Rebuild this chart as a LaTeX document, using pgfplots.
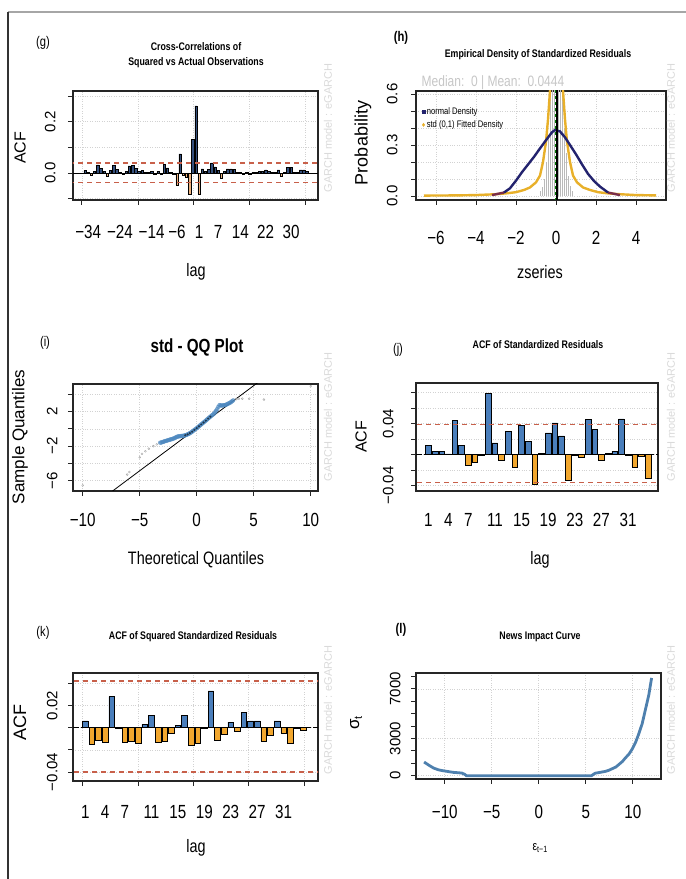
\documentclass[border=0pt]{standalone}
\usepackage{fontspec}
\setmainfont{Liberation Sans}[FakeStretch=0.8]
\newfontfamily\vfont{Liberation Sans}
\usepackage{pgfplots}
\pgfplotsset{compat=1.18}

\definecolor{barblue}{HTML}{4A7EBB}
\definecolor{barorange}{HTML}{F2A72E}
\definecolor{gblue}{HTML}{35507E}
\definecolor{gorange}{HTML}{EDB27E}
\definecolor{ciline}{HTML}{C8604A}
\definecolor{navyd}{HTML}{23236E}
\definecolor{maroon}{HTML}{7A2E4A}
\definecolor{gold}{HTML}{E8B02A}
\definecolor{nicblue}{HTML}{4E80AE}
\definecolor{qqblue}{HTML}{4A86BE}
\definecolor{wm}{HTML}{DADADA}

\newcommand\fs[1]{\fontsize{#1}{#1}\selectfont}

\pgfplotsset{
  rpanel/.style={
    scale only axis,
    axis line style={line width=1.2pt, black!85},
    tick align=outside,
    major tick length=5pt,
    minor tick length=5pt,
    tick style={black!85, line width=0.8pt},
    xtick pos=lower, ytick pos=left,
    grid=major,
    grid style={dotted, gray!35, line width=0.7pt},
    xticklabel style={font=\fs{19}},
    yticklabel style={font=\vfont\fs{15}, rotate=90, anchor=south},
    scaled ticks=false,
  },
  % empty axis that only draws the tick marks and grid of the lag axis
  tickonly/.style={
    scale only axis, ymin=0, ymax=1,
    axis x line*=bottom, hide y axis,
    axis line style={draw=none},
    xticklabels={}, tick align=outside, major tick length=5pt,
    tick style={black!85, line width=0.8pt},
    xmajorgrids, grid style={dotted, gray!35, line width=0.7pt},
  },
  acfci/.style={color=ciline, draw=ciline, line width=1.3pt, dash pattern=on 5pt off 4pt},
}

\begin{document}
\begin{tikzpicture}[x=1pt, y=1pt]
\useasboundingbox (0,0) rectangle (686,879);
\draw[gray!70, line width=2pt] (8,867) -- (686,867);
\draw[black!80, line width=2pt] (8,867) -- (8,0);

% ---------- (g) cross-correlations ----------
\begin{axis}[tickonly, at={(73pt,679pt)}, anchor=south west, width=245pt, height=109pt,
  xmin=-38.8, xmax=38.5, xtick={-36,-18.3,-0.9,16.7,34.4}]
\end{axis}
\begin{axis}[rpanel, at={(73pt,679pt)}, anchor=south west, width=245pt, height=109pt,
  xmin=-38.8, xmax=38.5, ymin=-0.105, ymax=0.32,
  xtick={-34,-24,-14,-6,1,7,14,22,30},
  xticklabels={−34,−24,−14,−6,1,7,14,22,30},
  xtick style={draw=none}, xmajorgrids=false,
  xticklabel shift=17pt, yticklabel shift=9pt,
  ytick={-0.1,0,0.1,0.2,0.3}, yticklabels={,0.0,,0.2,}]
\addplot[ybar, bar width=0.75, bar shift=0pt, fill=gblue, draw=black, line width=0.5pt] coordinates {
 (-35,0.010)(-34,0.004)(-32,0.006)(-31,0.032)(-30,0.018)(-29,0.008)(-27,0.010)(-26,0.030)
 (-25,0.014)(-24,0.004)(-22,0.006)(-21,0.028)(-20,0.030)(-19,0.018)(-18,0.008)(-17,0.010)
 (-16,0.004)(-15,0.002)(-14,0.006)(-12,0.006)(-10,0.034)(-9,0.020)(-8,0.002)(-5,0.075)
 (-1,0.130)(0,0.262)(2,0.016)(3,0.006)(4,0.014)(5,0.040)(6,0.024)(7,0.010)(9,0.008)
 (10,0.016)(11,0.016)(12,0.014)(13,0.002)(14,0.004)(16,0.002)(18,0.004)(19,0.002)
 (20,0.008)(21,0.006)(22,0.012)(23,0.008)(24,0.002)(25,0.004)(26,0.012)(28,0.004)
 (29,0.022)(30,0.022)(31,0.004)(32,0.002)(33,0.012)(34,0.012)(35,0.006)};
\addplot[ybar, bar width=0.75, bar shift=0pt, fill=gorange, draw=black, line width=0.5pt] coordinates {
 (-33,-0.008)(-28,-0.012)(-23,-0.006)(-13,-0.004)(-11,-0.006)(-7,-0.004)(-6,-0.048)
 (-4,-0.010)(-3,-0.018)(-2,-0.082)(1,-0.082)(8,-0.020)(15,-0.004)(17,-0.004)(27,-0.012)};
\addplot[black, line width=0.8pt] coordinates {(-40,0)(40,0)};
\addplot[acfci] coordinates {(-40,0.0395)(40,0.0395)};
\addplot[acfci] coordinates {(-40,-0.037)(40,-0.037)};
\end{axis}

% ---------- (h) empirical density ----------
\begin{axis}[rpanel, at={(416pt,679pt)}, anchor=south west, width=250pt, height=109pt,
  xmin=-7, xmax=5.5, ymin=-0.024, ymax=0.618,
  xtick={-6,-4,-2,0,2,4}, xticklabels={−6,−4,−2,0,2,4},
  xticklabel shift=23pt, yticklabel shift=10pt,
  ytick={0,0.1,0.2,0.3,0.4,0.5,0.6}, yticklabels={0.0,,,0.3,,,0.6},
  legend style={draw=none, fill=none, at={(0.02,0.88)}, anchor=north west,
    font=\fs{9.5}, row sep=1pt, inner sep=1pt},
  legend cell align=left]
\addplot[ycomb, gray!55, line width=0.5pt, forget plot] coordinates {
 (-0.8,0.03)(-0.7,0.05)(-0.6,0.10)(-0.5,0.20)(-0.4,0.35)(-0.3,0.62)(-0.2,0.65)(-0.1,0.65)
 (0.1,0.65)(0.2,0.65)(0.3,0.62)(0.4,0.40)(0.5,0.25)(0.6,0.12)(0.7,0.06)(0.8,0.03)};
\addplot[gold, line width=2.4pt, forget plot] coordinates {
 (-6.6,0.002)(-5,0.003)(-4,0.005)(-3,0.010)(-2.5,0.015)(-2,0.022)(-1.6,0.035)(-1.3,0.050)
 (-1.0,0.080)(-0.8,0.120)(-0.65,0.200)(-0.5,0.320)(-0.4,0.450)(-0.3,0.620)(-0.25,0.800)
 (-0.15,1.2)(0,1.5)(0.15,1.2)(0.3,0.800)(0.35,0.620)(0.45,0.450)(0.55,0.320)(0.7,0.200)
 (0.85,0.120)(1.05,0.080)(1.35,0.050)(1.7,0.035)(2.1,0.022)(2.6,0.015)(3.2,0.010)
 (4,0.005)(5,0.003)};
\addplot[maroon, line width=2.4pt, forget plot] coordinates {(-3.2,0.005)(-2.6,0.02)};
\addplot[maroon, line width=2.4pt, forget plot] coordinates {(2.6,0.02)(3.2,0.005)};
\addplot[navyd, line width=2.4pt, forget plot] coordinates {
 (-2.6,0.020)(-2.3,0.045)(-2.0,0.090)(-1.7,0.140)(-1.4,0.185)(-1.1,0.230)(-0.8,0.280)
 (-0.47,0.333)(-0.2,0.375)(-0.05,0.388)(0.2,0.380)(0.45,0.345)(0.7,0.300)(1.0,0.245)
 (1.3,0.186)(1.6,0.130)(1.9,0.088)(2.2,0.055)(2.6,0.020)};
\addplot[green!50!black, line width=1.4pt, dashed, forget plot] coordinates {(0,-0.1)(0,1)};
\addplot[black, line width=1.4pt, forget plot] coordinates {(0.0444,-0.1)(0.0444,1)};
\addlegendimage{only marks, mark=square*, mark size=1.3pt, navyd}
\addlegendentry{normal Density}
\addlegendimage{only marks, mark=diamond*, mark size=1.6pt, gold}
\addlegendentry{std (0,1) Fitted Density}
\end{axis}

% ---------- (i) QQ plot ----------
\begin{axis}[rpanel, at={(73pt,388pt)}, anchor=south west, width=245pt, height=107pt,
  xmin=-10.85, xmax=10.64, ymin=-7.2, ymax=5.2,
  xtick={-10,-5,0,5,10}, xticklabels={−10,−5,0,5,10},
  xticklabel shift=14pt, yticklabel shift=7pt,
  ytick={-6,-4,-2,0,2,4}, yticklabels={−6,,−2,,2,}]
\addplot[black, line width=0.8pt] coordinates {(-7.6,-7.42)(5.6,5.6)};
\addplot[only marks, mark=o, mark size=1pt, gray!70] coordinates {
 (-10,-6.55)(-6.1,-5.3)(-5.9,-5.0)(-5.0,-3.3)(-4.8,-2.9)(-4.5,-2.6)(-4.2,-2.3)(-3.8,-2.0)
 (-3.5,-1.8)(3.5,3.45)(3.7,3.5)(4.0,3.5)(4.6,3.5)(5.9,3.4)(10,4.95)};
\addplot[only marks, mark=*, mark size=2pt, qqblue, opacity=0.6] coordinates {
 (-3.2,-1.6)(-3.1,-1.58)(-3.0,-1.52)(-2.9,-1.5)(-2.8,-1.42)(-2.7,-1.4)(-2.6,-1.36)
 (-2.5,-1.3)(-2.4,-1.28)(-2.3,-1.22)(-2.2,-1.2)(-2.1,-1.15)(-2.0,-1.1)(-1.9,-1.05)
 (-1.8,-0.95)(-1.7,-0.9)(-1.6,-0.88)(-1.5,-0.85)(-1.4,-0.84)(-1.3,-0.82)(-1.2,-0.8)
 (-1.1,-0.78)(-1.0,-0.74)(-0.9,-0.7)(-0.8,-0.64)(-0.7,-0.58)(-0.6,-0.5)(-0.5,-0.42)
 (-0.4,-0.33)(-0.3,-0.22)(-0.2,-0.12)(-0.1,-0.02)(0,0.08)(0.1,0.19)(0.2,0.3)(0.3,0.41)
 (0.4,0.52)(0.5,0.63)(0.6,0.74)(0.7,0.85)(0.8,0.96)(0.9,1.08)(1.0,1.2)(1.1,1.31)
 (1.2,1.42)(1.3,1.53)(1.4,1.64)(1.5,1.75)(1.6,1.92)(1.7,2.1)(1.8,2.3)(1.9,2.55)
 (2.0,2.75)(2.1,2.72)(2.2,2.7)(2.3,2.72)(2.4,2.74)(2.5,2.76)(2.6,2.82)(2.7,2.88)
 (2.8,2.95)(2.9,3.0)(3.0,3.1)(3.1,3.2)(3.2,3.3)};
\addplot[only marks, mark=*, mark size=0.8pt, black!60!qqblue] coordinates {
 (-1.0,-0.74)(-0.8,-0.64)(-0.6,-0.5)(-0.4,-0.33)(-0.2,-0.12)(0,0.08)(0.2,0.3)(0.4,0.52)
 (0.6,0.74)(0.8,0.96)(1.0,1.2)(1.2,1.42)};
\end{axis}

% ---------- (j) ACF of standardized residuals ----------
\begin{axis}[rpanel, at={(416pt,388pt)}, anchor=south west, width=242pt, height=108pt,
  xmin=-0.85, xmax=35.5, ymin=-0.047, ymax=0.0924,
  xtick={1,4,7,11,15,19,23,27,31}, xticklabels={1,4,7,11,15,19,23,27,31},
  xtick style={draw=none}, xmajorgrids=false,
  xticklabel shift=14pt, yticklabel shift=14pt,
  ytick={-0.04,-0.02,0,0.02,0.04,0.06,0.08}, yticklabels={−0.04,,,,0.04,,}]
\addplot[ybar, bar width=0.85, bar shift=0pt, fill=barblue, draw=black, line width=0.6pt] coordinates {
 (1,0.012)(2,0.004)(3,0.004)(4,0.001)(5,0.044)(6,0.012)(10,0.079)(11,0.015)(13,0.030)
 (15,0.038)(16,0.017)(18,0.002)(19,0.028)(20,0.041)(21,0.024)(25,0.045)(26,0.032)
 (28,0.002)(29,0.004)(30,0.046)};
\addplot[ybar, bar width=0.85, bar shift=0pt, fill=barorange, draw=black, line width=0.6pt] coordinates {
 (7,-0.014)(8,-0.0095)(9,-0.001)(12,-0.008)(14,-0.017)(17,-0.039)(22,-0.033)(23,-0.001)
 (24,-0.003)(27,-0.008)(31,-0.001)(32,-0.016)(33,-0.002)(34,-0.031)};
\addplot[black, line width=0.9pt, dash pattern=on 6pt off 2pt] coordinates {(-2,0)(37,0)};
\addplot[acfci] coordinates {(-2,0.0385)(37,0.0385)};
\addplot[acfci] coordinates {(-2,-0.036)(37,-0.036)};
\end{axis}

% ---------- (k) ACF of squared standardized residuals ----------
\begin{axis}[tickonly, at={(73pt,98pt)}, anchor=south west, width=245pt, height=108pt,
  xmin=-0.86, xmax=36.2, xtick={0.55,9,17.3,25.7,34.2}]
\end{axis}
\begin{axis}[rpanel, at={(73pt,98pt)}, anchor=south west, width=245pt, height=108pt,
  xmin=-0.86, xmax=36.2, ymin=-0.048, ymax=0.0492,
  xtick={1,4,7,11,15,19,23,27,31}, xticklabels={1,4,7,11,15,19,23,27,31},
  xtick style={draw=none}, xmajorgrids=false,
  xticklabel shift=16pt, yticklabel shift=7pt,
  ytick={-0.04,-0.02,0,0.02,0.04}, yticklabels={−0.04,,,0.02,}]
\addplot[ybar, bar width=0.85, bar shift=0pt, fill=barblue, draw=black, line width=0.6pt] coordinates {
 (1,0.006)(5,0.028)(10,0.003)(11,0.011)(15,0.002)(16,0.011)(20,0.033)(23,0.005)
 (25,0.014)(26,0.006)(27,0.006)(30,0.006)};
\addplot[ybar, bar width=0.85, bar shift=0pt, fill=barorange, draw=black, line width=0.6pt] coordinates {
 (2,-0.015)(3,-0.011)(4,-0.013)(6,-0.001)(7,-0.013)(8,-0.012)(9,-0.014)(12,-0.013)
 (13,-0.012)(14,-0.005)(17,-0.016)(18,-0.014)(19,-0.0005)(21,-0.011)(22,-0.006)
 (24,-0.003)(28,-0.012)(29,-0.007)(31,-0.005)(32,-0.014)(33,-0.001)(34,-0.002)};
\addplot[black, line width=0.9pt, dash pattern=on 6pt off 2pt] coordinates {(-2,0)(38,0)};
\addplot[acfci] coordinates {(-2,0.042)(38,0.042)};
\addplot[acfci] coordinates {(-2,-0.040)(38,-0.040)};
\end{axis}

% ---------- (l) news impact curve ----------
\begin{axis}[rpanel, at={(416pt,100pt)}, anchor=south west, width=245pt, height=106pt,
  xmin=-13.06, xmax=13.0, ymin=-266, ymax=8280,
  xtick={-10,-5,0,5,10}, xticklabels={−10,−5,0,5,10},
  xticklabel shift=18pt, yticklabel shift=7pt,
  ytick={0,3000,7000}, yticklabels={0,3000,7000},
  minor ytick={1000,2000,4000,5000,6000,8000}]
\addplot[nicblue, line width=2.8pt] coordinates {
 (-12.2,1100)(-11.7,850)(-11.2,620)(-10.7,480)(-10.2,400)(-9.6,330)(-9.1,270)(-8.6,240)
 (-8.2,215)(-7.9,120)(-7.7,0)(5.6,0)(6.0,200)(6.6,280)(7.1,350)(7.5,450)(7.8,560)
 (8.2,700)(8.5,890)(8.9,1150)(9.2,1420)(9.6,1750)(9.9,2100)(10.3,2700)(10.6,3300)
 (11.0,4200)(11.3,5190)(11.7,6500)(12.0,7880)};
\end{axis}

% ---------- text ----------
\node[font=\fs{14}] at (43,836) {(g)};
\node[font=\bfseries\fs{14}] at (401,841) {(h)};
\node[font=\fs{14}] at (45,536) {(i)};
\node[font=\fs{14}] at (398,529) {(j)};
\node[font=\fs{14}] at (43,246) {(k)};
\node[font=\bfseries\fs{14}] at (401,249) {(l)};

\node[font=\bfseries\fs{11}] at (196,832) {Cross-Correlations of};
\node[font=\bfseries\fs{11}] at (196,816) {Squared vs Actual Observations};
\node[font=\bfseries\fs{11}] at (538,824) {Empirical Density of Standardized Residuals};
\node[font=\bfseries\fs{19}] at (197,532) {std - QQ Plot};
\node[font=\bfseries\fs{11}] at (538,534) {ACF of Standardized Residuals};
\node[font=\bfseries\fs{11}] at (193,242) {ACF of Squared Standardized Residuals};
\node[font=\bfseries\fs{11}] at (540,242) {News Impact Curve};

\node[font=\fs{15}, text=gray!45] at (493,796) {Median:\ \ 0 | Mean:\ \ 0.0444};

\node[rotate=90, font=\vfont\fs{16}] at (20,731) {ACF};
\node[font=\fs{18}] at (196,607) {lag};
\node[rotate=90, font=\vfont\fs{18}] at (363,736) {Probability};
\node[font=\fs{18}] at (540,607) {zseries};
\node[rotate=90, font=\vfont\fs{17}] at (20,442) {Sample Quantiles};
\node[font=\fs{18}] at (196,319) {Theoretical Quantiles};
\node[rotate=90, font=\vfont\fs{16}] at (361,442) {ACF};
\node[font=\fs{18}] at (540,319) {lag};
\node[rotate=90, font=\vfont\fs{18}] at (20,156) {ACF};
\node[font=\fs{18}] at (196,31) {lag};
\node[rotate=90, font=\vfont\fs{17}] at (356,156) {σ\raisebox{-0.3ex}{\fs{11}t}};
\node[font=\fs{13}] at (540,31) {ε\raisebox{-0.3ex}{\fs{9}t−1}};

\foreach \wx in {328,671}{
  \foreach \wy in {751,462,169}{
    \node[rotate=90, font=\vfont\fs{11}, text=wm] at (\wx,\wy) {GARCH model : eGARCH};
  }
}
\end{tikzpicture}
\end{document}
